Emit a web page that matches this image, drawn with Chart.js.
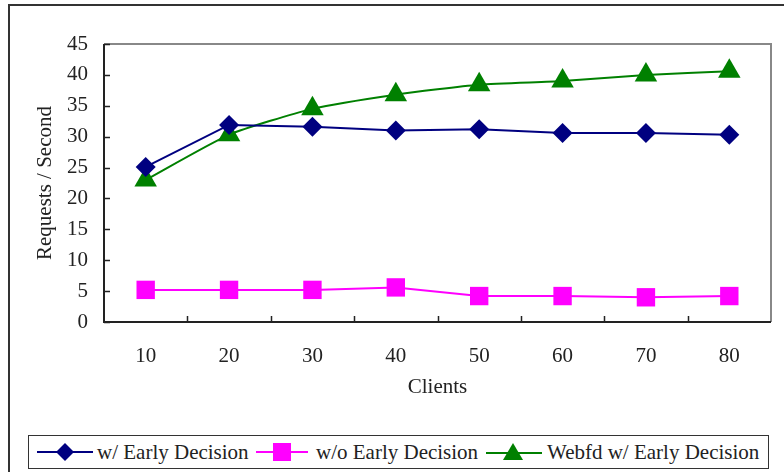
<!DOCTYPE html>
<html>
<head>
<meta charset="utf-8">
<script src="https://cdn.jsdelivr.net/npm/chart.js@4/dist/chart.umd.min.js"></script>
<style>
  html, body { margin: 0; padding: 0; background: #fff; overflow: hidden; }
  #wrap { position: relative; width: 784px; height: 472px; }
  #frame { position: absolute; left: 8px; top: 4px; width: 800px; height: 500px;
           border-left: 2px solid #333; border-top: 2px solid #333; }
  canvas { position: absolute; left: 0; top: 0; }
  #legend { position: absolute; left: 28px; top: 435px; width: 739px; height: 32px;
            border: 1px solid #333; background: #fff;
            font-family: "Liberation Serif", "Times New Roman", serif; font-size: 21px; color: #222; }
  .item { position: absolute; top: 0; height: 32px; line-height: 32px; white-space: nowrap; }
  .item svg { position: absolute; top: 6px; }
  .item span { position: absolute; top: 0; }
</style>
</head>
<body>
<div id="wrap">
  <div id="frame"></div>
  <canvas id="chart" width="784" height="472"></canvas>
  <div id="legend"></div>
</div>
<script>
const categories = ["10", "20", "30", "40", "50", "60", "70", "80"];
const withEarly = [25.1, 31.9, 31.6, 31.0, 31.2, 30.6, 30.6, 30.3];
const withoutEarly = [5.2, 5.2, 5.2, 5.6, 4.2, 4.2, 4.0, 4.2];
const webfdEarly = [23.0, 30.3, 34.5, 36.8, 38.4, 39.0, 40.0, 40.6];
const yMin = 0;
const yMax = 45;
const yStep = 5;

const seriesNames = ["w/ Early Decision", "w/o Early Decision", "Webfd w/ Early Decision"];

// legend (html, symbols in svg)
function renderLegend() {
  const legend = document.getElementById("legend");
  const items = [
    { left: 8, text: seriesNames[0], textLeft: 60,
      svg: '<svg width="56" height="20"><line x1="0" y1="10" x2="56" y2="10" stroke="#000080" stroke-width="2"/><polygon points="28,1 37,10 28,19 19,10" fill="#000080"/></svg>' },
    { left: 227, text: seriesNames[1], textLeft: 60,
      svg: '<svg width="52" height="20"><line x1="0" y1="10" x2="52" y2="10" stroke="#ff00ff" stroke-width="2"/><rect x="17" y="1" width="18" height="18" fill="#ff00ff"/></svg>' },
    { left: 457, text: seriesNames[2], textLeft: 61,
      svg: '<svg width="56" height="20"><line x1="0" y1="11" x2="56" y2="11" stroke="#008000" stroke-width="2"/><polygon points="27,1 37,18 17,18" fill="#008000"/></svg>' },
  ];
  legend.innerHTML = items
    .map(
      (it) => `
    <div class="item" style="left:${it.left}px">
      ${it.svg}
      <span style="left:${it.textLeft}px">${it.text}</span>
    </div>`,
    )
    .join("");
}

// plot frame and inward tick marks
const framePlugin = {
  id: "frame",
  beforeDatasetsDraw(chart) {
    const { ctx, chartArea: a, scales } = chart;
    ctx.save();
    ctx.strokeStyle = "#888";
    ctx.lineWidth = 2;
    ctx.beginPath();
    ctx.moveTo(a.left, a.top);
    ctx.lineTo(a.right, a.top);
    ctx.lineTo(a.right, a.bottom);
    ctx.stroke();

    ctx.strokeStyle = "#222";
    ctx.lineWidth = 2;
    ctx.beginPath();
    ctx.moveTo(a.left, a.top);
    ctx.lineTo(a.left, a.bottom);
    ctx.lineTo(a.right, a.bottom);
    ctx.stroke();

    ctx.lineWidth = 1.5;
    ctx.beginPath();
    scales.y.ticks.forEach((t) => {
      const y = Math.round(scales.y.getPixelForValue(t.value)) + 0.5;
      ctx.moveTo(a.left, y);
      ctx.lineTo(a.left + 6, y);
    });
    const half = (scales.x.getPixelForValue(1) - scales.x.getPixelForValue(0)) / 2;
    for (let i = 1; i < categories.length; i++) {
      const x = Math.round(scales.x.getPixelForValue(i) - half) + 0.5;
      ctx.moveTo(x, a.bottom);
      ctx.lineTo(x, a.bottom - 6);
    }
    ctx.stroke();
    ctx.restore();
  },
};

function initChart() {
  Chart.defaults.font.family = "'Liberation Serif', 'Times New Roman', serif";
  Chart.defaults.color = "#222";

  const ctx = document.getElementById("chart").getContext("2d");
  new Chart(ctx, {
    type: "line",
    data: {
      labels: categories,
      datasets: [
        {
          label: seriesNames[0],
          data: withEarly,
          borderColor: "#000080",
          backgroundColor: "#000080",
          borderWidth: 2,
          pointStyle: "rectRot",
          pointRadius: 10,
          pointBorderWidth: 0,
          tension: 0,
        },
        {
          label: seriesNames[1],
          data: withoutEarly,
          borderColor: "#ff00ff",
          backgroundColor: "#ff00ff",
          borderWidth: 2,
          pointStyle: "rect",
          pointRadius: 13,
          pointBorderWidth: 0,
          tension: 0,
        },
        {
          label: seriesNames[2],
          data: webfdEarly,
          borderColor: "#008000",
          backgroundColor: "#008000",
          borderWidth: 2,
          pointStyle: "triangle",
          pointRadius: 13,
          pointBorderWidth: 0,
          tension: 0.2,
        },
      ],
    },
    options: {
      responsive: false,
      animation: false,
      devicePixelRatio: 1,
      layout: { padding: { left: 33, top: 44, right: 9, bottom: 72 } },
      plugins: {
        legend: { display: false },
        tooltip: { enabled: false },
      },
      scales: {
        x: {
          offset: true,
          grid: { display: false, drawTicks: false },
          border: { display: false },
          ticks: { font: { size: 21 }, padding: 22, maxRotation: 0 },
          title: { display: true, text: "Clients", font: { size: 21 }, padding: 0 },
          afterFit(scale) { scale.height = 78; },
        },
        y: {
          min: yMin,
          max: yMax,
          grid: { display: false, drawTicks: false },
          border: { display: false },
          ticks: { stepSize: yStep, font: { size: 21 }, padding: 16 },
          title: { display: true, text: "Requests / Second", font: { size: 21 }, padding: 0 },
          afterFit(scale) { scale.width = 71; },
        },
      },
    },
    plugins: [framePlugin],
  });
}

document.addEventListener("DOMContentLoaded", function () {
  renderLegend();
  initChart();
});
</script>
</body>
</html>
